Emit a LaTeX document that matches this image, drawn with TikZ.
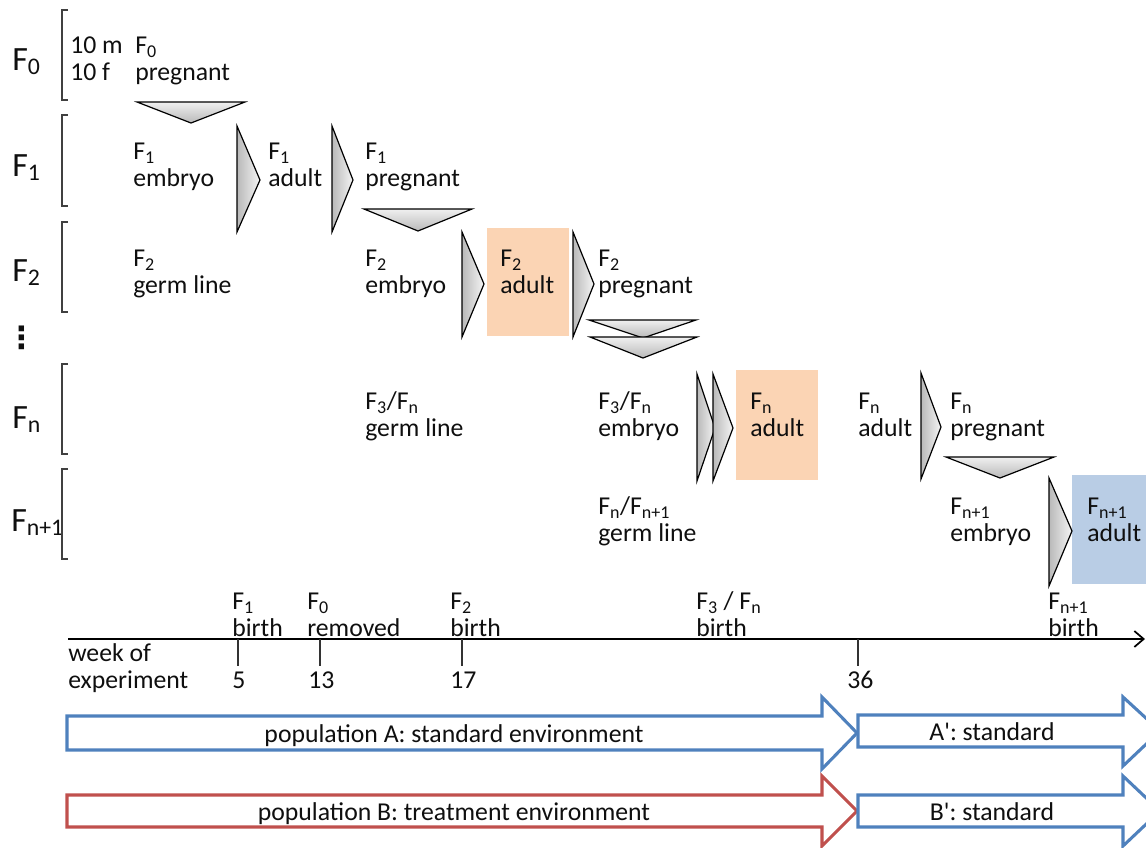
\documentclass[tikz,border=0pt]{standalone}
\usepackage{fontspec}
\setmainfont{Carlito}
\newfontfamily\straight{Carlito}
\newfontfamily\dejavu{DejaVu Sans}
\usetikzlibrary{arrows.meta}
\definecolor{boxorange}{RGB}{251,212,180}
\definecolor{boxblue}{RGB}{185,205,229}
\definecolor{popblue}{RGB}{79,129,189}
\definecolor{popred}{RGB}{192,80,77}
\definecolor{txt}{RGB}{15,15,15}
\newcommand{\fs}{\fontsize{19.3}{21}\selectfont}
\newcommand{\fbig}{\fontsize{25.5}{29}\selectfont}
\newcommand{\sub}[1]{\textsubscript{#1}}
\newcommand{\lab}[5]{\node[lbl] (#1a) at (#2,#3) {#4}; \node[lbl] (#1b) at (#2,#3+27) {#5};}
\begin{document}
\begin{tikzpicture}[x=0.75pt,y=-0.75pt,
  lbl/.style={anchor=base west, inner sep=0pt, font=\fs, text=txt},
  gen/.style={anchor=base west, inner sep=0pt, font=\fbig, text=txt},
  ctr/.style={anchor=base, inner sep=0pt, font=\fs, text=txt},
  rtri/.style={draw=black, line width=0.9pt, line join=miter, left color=gray!55, right color=gray!8},
  dtri/.style={draw=black, line width=0.9pt, line join=miter, top color=gray!12, bottom color=gray!55},
  brk/.style={draw=black!75, line width=1.1pt},
  popA/.style={draw=popblue, line width=2.3pt, line join=miter, fill=white},
  popB/.style={draw=popred, line width=2.3pt, line join=miter, fill=white},
  tick/.style={draw=black!80, line width=1.1pt}]
\useasboundingbox (0,0) rectangle (1146,847);
\clip (0,0) rectangle (1146,847);

% left generation labels and brackets
\node[gen] (g0) at (12,70) {F\sub{0}};
\node[gen] (g1) at (12,176) {F\sub{1}};
\node[gen] (g2) at (12,281) {F\sub{2}};
\node[inner sep=0pt, font=\dejavu\bfseries\fontsize{23}{26}\selectfont, text=txt] (gdots) at (22,338) {⋮};
\node[gen] (gn) at (12,428) {F\sub{n}};
\node[gen] (gn1) at (11,531) {F\sub{n+1}};
\draw[brk] (68,10) -- (62,10) -- (62,100) -- (68,100);
\draw[brk] (68,115) -- (62,115) -- (62,206) -- (68,206);
\draw[brk] (68,222) -- (62,222) -- (62,312) -- (68,312);
\draw[brk] (68,364) -- (62,364) -- (62,454) -- (68,454);
\draw[brk] (68,469) -- (62,469) -- (62,559) -- (68,559);

% coloured boxes
\fill[boxorange] (487,228) rectangle (569,336);
\fill[boxorange] (736,370) rectangle (818,480);
\fill[boxblue] (1072,475) rectangle (1146,584);

% triangles
\draw[dtri] (137,102) -- (245,102) -- (191,123) -- cycle;
\draw[rtri] (237,126) -- (260,180) -- (237,232) -- cycle;
\draw[rtri] (332,126) -- (353,180) -- (332,232) -- cycle;
\draw[dtri] (364,209) -- (472,209) -- (418,231) -- cycle;
\draw[rtri] (462,232) -- (484,284) -- (462,337) -- cycle;
\draw[rtri] (573,232) -- (594,284) -- (573,337) -- cycle;
\draw[dtri] (589,320) -- (696,320) -- (643,338) -- cycle;
\draw[dtri] (590,337) -- (697,337) -- (643,358) -- cycle;
\draw[rtri] (697,374) -- (715,428) -- (697,481) -- cycle;
\draw[rtri] (713,374) -- (733,428) -- (713,481) -- cycle;
\draw[rtri] (921,373) -- (941,427) -- (921,479) -- cycle;
\draw[dtri] (946,457) -- (1054,457) -- (1000,478) -- cycle;
\draw[rtri] (1049,478) -- (1072,531) -- (1049,586) -- cycle;

% stage labels
\lab{a0}{70}{53}{10 m}{10 f}
\lab{f0p}{135}{53}{F\sub{0}}{pregnant}
\lab{f1e}{133}{159}{F\sub{1}}{embryo}
\lab{f1a}{268}{159}{F\sub{1}}{adult}
\lab{f1p}{365}{159}{F\sub{1}}{pregnant}
\lab{f2g}{133}{266}{F\sub{2}}{germ line}
\lab{f2e}{365}{266}{F\sub{2}}{embryo}
\lab{f2a}{500}{266}{F\sub{2}}{adult}
\lab{f2p}{598}{266}{F\sub{2}}{pregnant}
\lab{f3g}{365}{409}{F\sub{3}/F\sub{n}}{germ line}
\lab{f3e}{598}{409}{F\sub{3}/F\sub{n}}{embryo}
\lab{fna}{750}{409}{F\sub{n}}{adult}
\lab{fnb}{858}{409}{F\sub{n}}{adult}
\lab{fnp}{950}{409}{F\sub{n}}{pregnant}
\lab{fng}{598}{514}{F\sub{n}/F\sub{n+1}}{germ line}
\lab{fn1e}{950}{514}{F\sub{n+1}}{embryo}
\lab{fn1a}{1087}{514}{F\sub{n+1}}{adult}

% timeline
\coordinate (t0) at (68,639);
\coordinate (t1) at (1145,639);
\draw[line width=1.3pt, -{Straight Barb[length=7pt,width=12pt,line width=1.3pt]}] (t0) -- (t1);
\coordinate (k5) at (238,639);
\coordinate (k13) at (320,639);
\coordinate (k17) at (462,639);
\coordinate (k36) at (858,639);
\draw[tick] (k5) -- ++(0,27);
\draw[tick] (k13) -- ++(0,27);
\draw[tick] (k17) -- ++(0,27);
\draw[tick] (k36) -- ++(0,27);
\node[lbl] (n5) at (232,688) {5};
\node[lbl] (n13) at (308,688) {13};
\node[lbl] (n17) at (450,688) {17};
\node[lbl] (n36) at (847,688) {36};
\lab{wk}{68}{661}{week of}{experiment}
\lab{b1}{232}{609}{F\sub{1}}{birth}
\lab{r0}{307}{609}{F\sub{0}}{removed}
\lab{b2}{450}{609}{F\sub{2}}{birth}
\lab{b3}{696}{609}{F\sub{3} / F\sub{n}}{birth}
\lab{bn1}{1048}{609}{F\sub{n+1}}{birth}

% population arrows
\draw[popA] (67,716) -- (822,716) -- (822,697) -- (857,733) -- (822,769) -- (822,750) -- (67,750) -- cycle;
\draw[popA] (858,715) -- (1123,715) -- (1123,697) -- (1160,731) -- (1123,766) -- (1123,747) -- (858,747) -- cycle;
\draw[popB] (67,795) -- (822,795) -- (822,776) -- (857,811) -- (822,846) -- (822,827) -- (67,827) -- cycle;
\draw[popA] (858,795) -- (1123,795) -- (1123,776) -- (1160,811) -- (1123,846) -- (1123,827) -- (858,827) -- cycle;
\node[ctr] (pa) at (454,742) {population A: standard environment};
\node[ctr] (pa2) at (992,740) {A{\straight'}: standard};
\node[ctr] (pb) at (454,820) {population B: treatment environment};
\node[ctr] (pb2) at (992,820) {B{\straight'}: standard};
\end{tikzpicture}
\end{document}
